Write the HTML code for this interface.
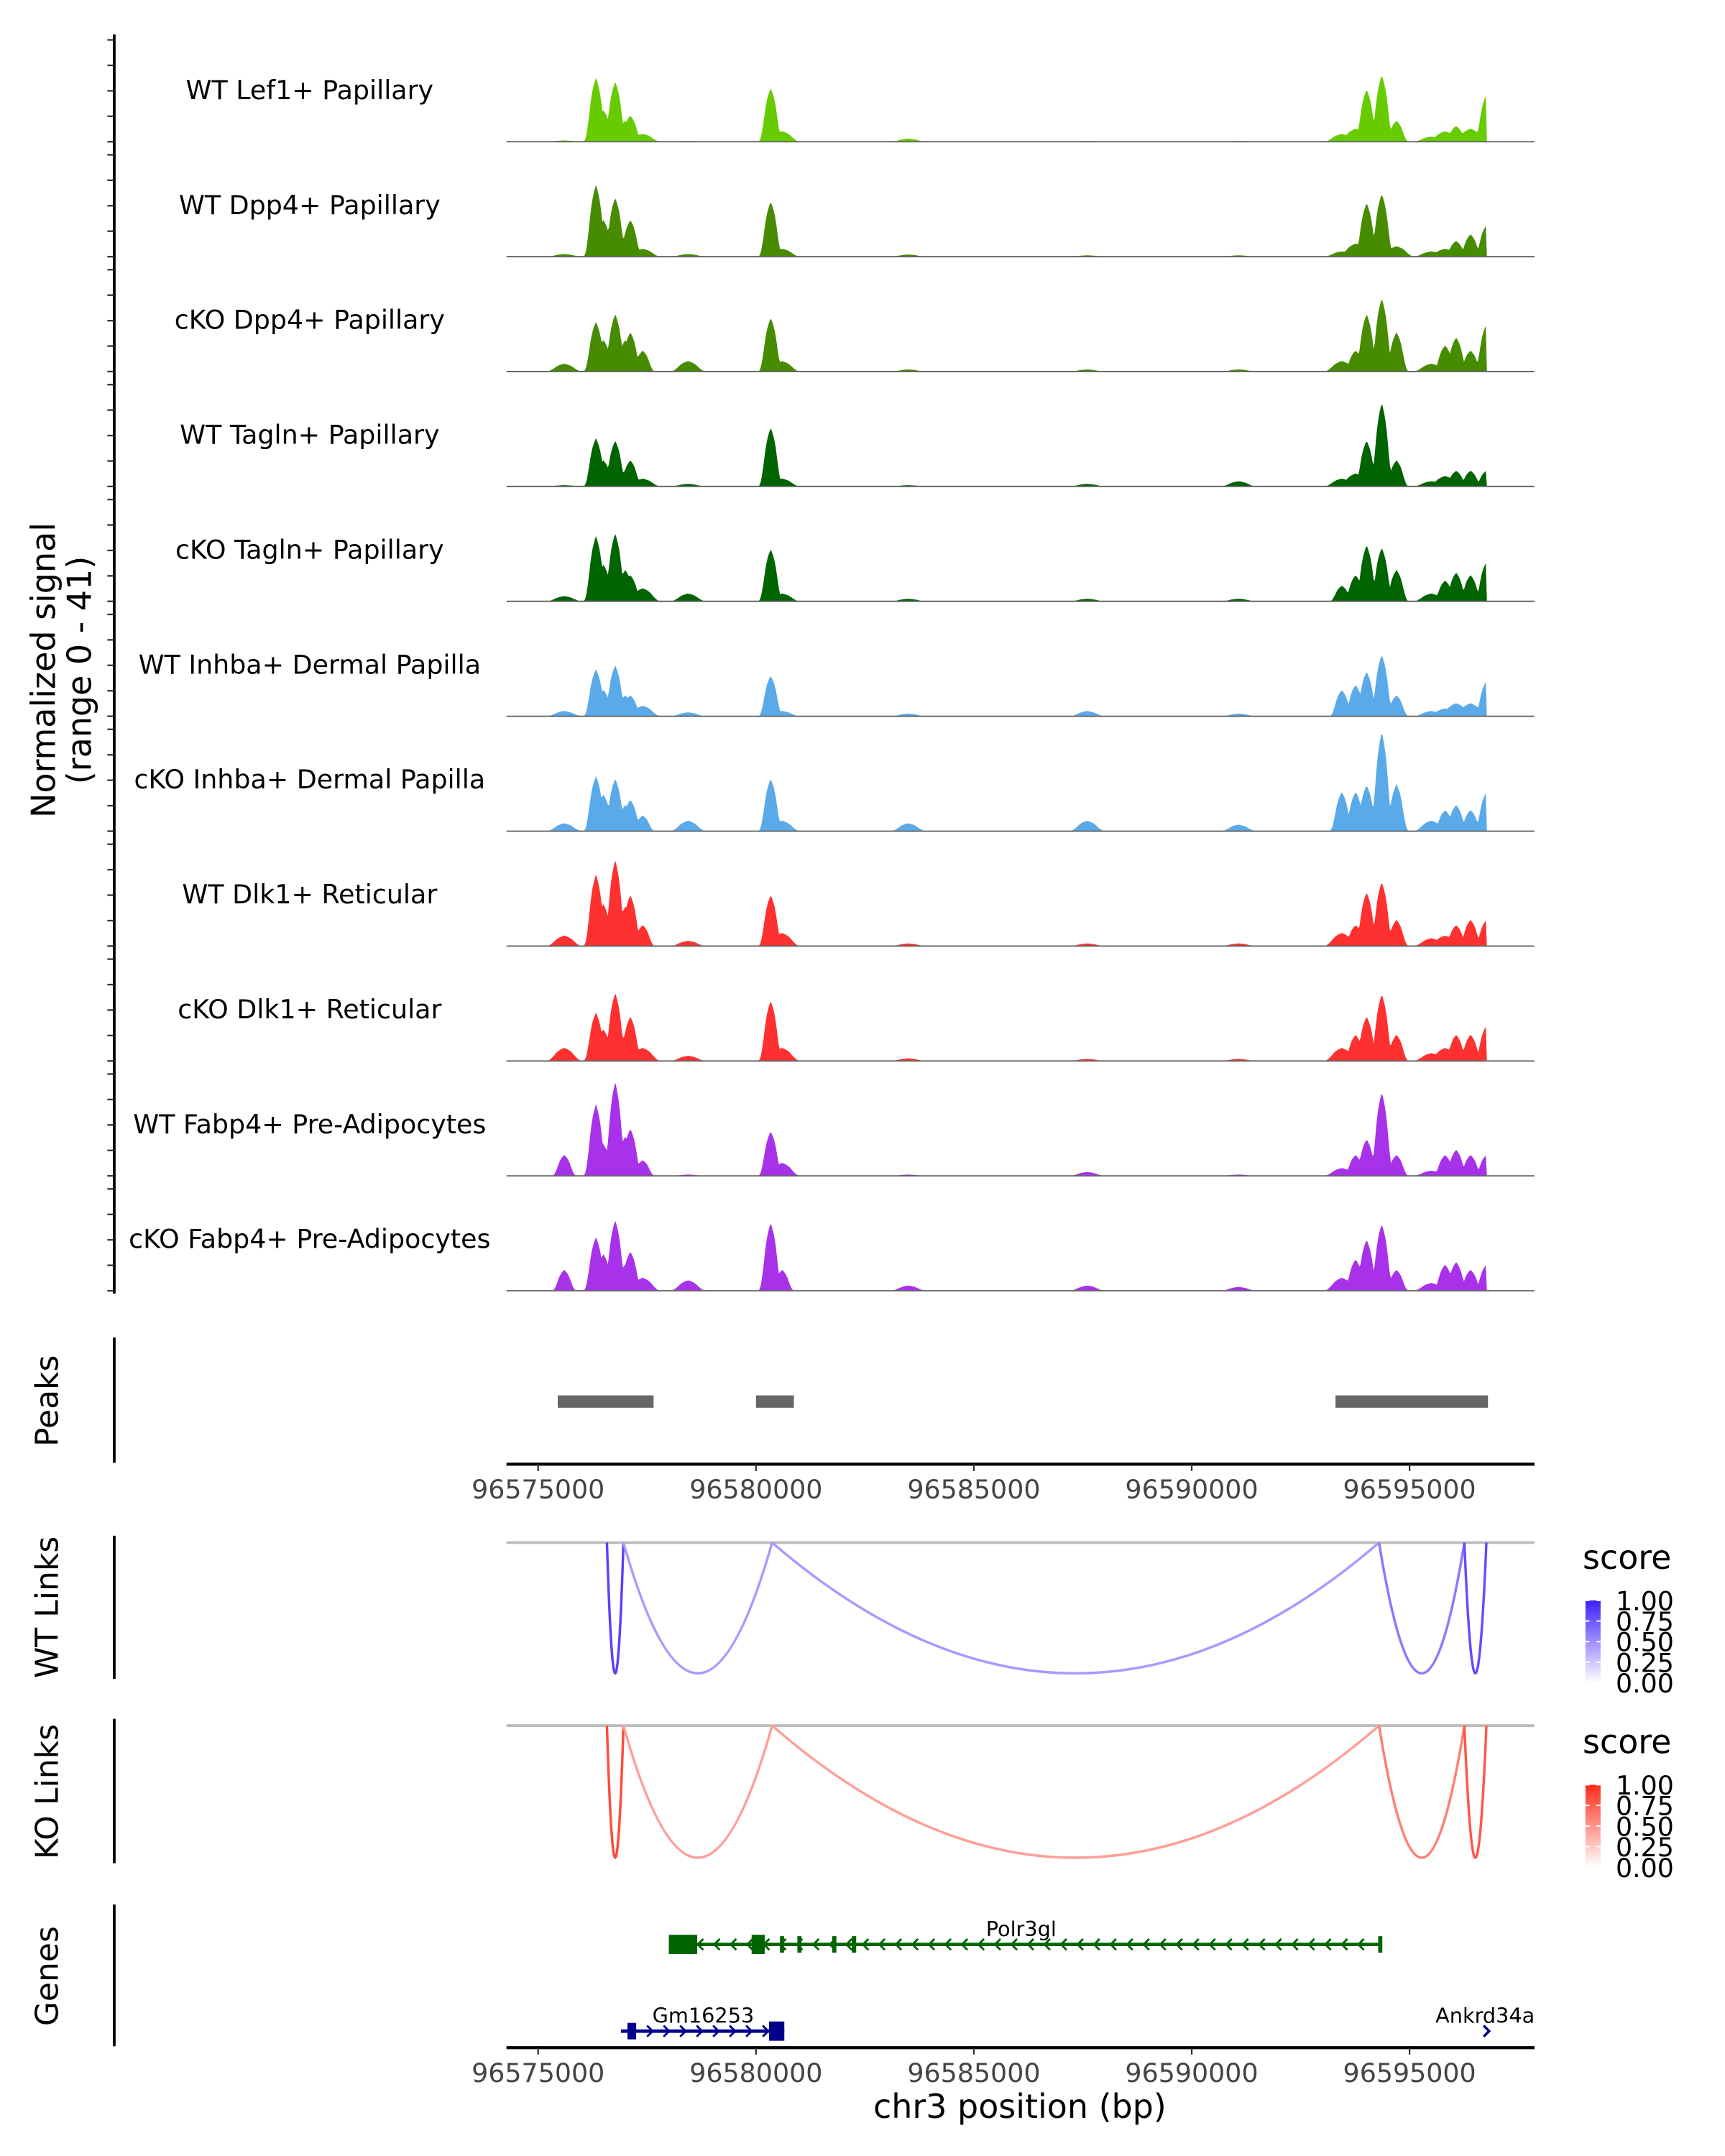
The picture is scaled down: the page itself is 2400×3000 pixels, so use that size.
<!DOCTYPE html>
<html><head><meta charset="utf-8"><style>
html,body{margin:0;padding:0;background:#fff;}
svg{display:block;font-family:"DejaVu Sans","Liberation Sans",sans-serif;}
</style></head><body>
<svg id="chart" width="2400" height="3000" viewBox="0 0 1253.4 1566.75" xmlns="http://www.w3.org/2000/svg">
<g id="tracks"></g>
<g id="peaks"></g>
<g id="links"></g>
<g id="genes"></g>
</svg>
<script>
// ---------- data ----------
const trackNames = ["WT Lef1+ Papillary","WT Dpp4+ Papillary","cKO Dpp4+ Papillary","WT Tagln+ Papillary","cKO Tagln+ Papillary","WT Inhba+ Dermal Papilla","cKO Inhba+ Dermal Papilla","WT Dlk1+ Reticular","cKO Dlk1+ Reticular","WT Fabp4+ Pre-Adipocytes","cKO Fabp4+ Pre-Adipocytes"];
const trackColors = ["#66cc00","#478b00","#478b00","#006400","#006400","#5aaaea","#5aaaea","#ff3030","#ff3030","#a832ea","#a832ea"];
const peakPos = [96575600,96576327,96576500,96576769,96577000,96577116,96577400,96578443,96580338,96580600,96583497,96587603,96591077,96593446,96593762,96594015,96594362,96594700,96595500,96595816,96596069,96596400,96596763];
const wtLef1   = [0.5,24.5,12,23,8,10,3,0.3,20.5,4,1.2,0.3,0.3,3,5,20,25.5,8,2,4,6,5,18];
const wtDpp4   = [1,27.5,14,22.5,8,14,3,1,21,3,0.8,0.5,0.5,2,5,20.5,24,4,2,3,6,8.5,12];
const koDpp4   = [3,19,12,22,12,15,8,4,20.5,4,0.8,0.8,0.8,4,8,22,28,15,3,10,13,8,18];
const wtTagln  = [0.5,18.5,10,17.5,6,10,3,1,22.5,3,0.5,1,2,3,5,17.5,32,10,2,4,6,6,6];
const koTagln  = [2,25,14,26,12,10,5,3,20,3,1,1,1,6,10,21.5,20.5,12,3,8,11,10,15];
const wtInhba  = [2,18,10,19.5,8,8,4,1.5,15.5,2,1,2,1,10,12,17,23.5,8,2,3,5,5,13.5];
const koInhba  = [3,21,14,20,10,12,6,4,20,4,3,4,2.5,15,15,17.5,38,18,4,8,10,8,15];
const wtDlk1   = [4,27.5,16,33,15,19.5,8,2,19.5,5,1,1,1,5,8,20.5,24.5,10,3,4,8,10,10];
const koDlk1   = [5,18.5,12,26,10,17,5,2,23,5,1,0.8,0.8,5,10,17,25.5,10,3,5,10,10,13.5];
const wtFabp4  = [8,27.5,12,36,15,18,6,0.5,17,5,0.5,1.5,0.5,3,8,14,32,8,2,8,10,8,8];
const koFabp4  = [8,20.5,14,27,10,15,5,4,26,8,2,2,1.5,5,12,19.5,25.5,8,3,10,11,8,10];
const trackValues = [wtLef1,wtDpp4,koDpp4,wtTagln,koTagln,wtInhba,koInhba,wtDlk1,koDlk1,wtFabp4,koFabp4];
const xTicks = [96575000,96580000,96585000,96590000,96595000];
const xTickLabels = ["96575000","96580000","96585000","96590000","96595000"];
const peakStarts = [96575450,96580000,96593300];
const peakEnds   = [96577650,96580870,96596800];
const linkStarts = [96576579,96576958,96580370,96594300,96596258];
const linkEnds   = [96576958,96580370,96594300,96596258,96596763];
const wtScores   = [0.85,0.45,0.45,0.6,0.8];
const koScores   = [0.85,0.45,0.45,0.6,0.8];
const legendTicks = [1.00,0.75,0.50,0.25,0.00];
const legendLabels = ["1.00","0.75","0.50","0.25","0.00"];
const polrExons = [[96578000,96578650],[96579900,96580200],[96580550,96580620],[96580950,96581020],[96581750,96581820],[96582200,96582300],[96594280,96594330]];
const gmExons = [[96577050,96577250],[96580300,96580650]];

// ---------- scales ----------
const NS="http://www.w3.org/2000/svg";
const X0=368, X1=1115, BP0=96574273, BP1=96597868;
function xs(bp){return X0+(bp-BP0)/(BP1-BP0)*(X1-X0);}
function el(tag,attrs,parent){const e=document.createElementNS(NS,tag);for(const k in attrs)e.setAttribute(k,attrs[k]);parent.appendChild(e);return e;}
const svg=document.getElementById('chart');
const gT=document.getElementById('tracks');
const trackBase0=103, trackStep=83.5, unitPx=1.9;
function ys(v,base){return base-v*unitPx;}

let ax=el('line',{x1:83,y1:25,x2:83,y2:940,stroke:'#000','stroke-width':2},gT);


for(let i=0;i<trackNames.length;i++){
  const base=trackBase0+i*trackStep;
  [0,10,20,30,40].forEach(v=>{
    const t=el('line',{x1:78,x2:83,y1:base-v*1.85,y2:base-v*1.85,stroke:'#333','stroke-width':1.2},gT);
    
    
  });
}
const yt=el('text',{x:0,y:0,transform:'translate(42,487) rotate(-90)','text-anchor':'middle','font-size':24},svg);


const ts1=el('tspan',{x:0,dy:-2},yt);ts1.textContent='Normalized signal';
const ts2=el('tspan',{x:0,dy:26},yt);ts2.textContent='(range 0 - 41)';

const W=160;
for(let i=0;i<trackNames.length;i++){
  const base=trackBase0+i*trackStep;
  const vals=trackValues[i];
  let d='M'+xs(96575200).toFixed(2)+','+base;
  for(let bp=96575200;bp<=96596790;bp+=25){
    let v=0;
    for(let k=0;k<peakPos.length;k++){
      const w=vals[k]<6?W*1.5:W;
      const dd=(bp-peakPos[k])/w;
      v=Math.max(v,vals[k]*Math.exp(-dd*dd*dd*dd/2)*(1-0.35*Math.min(1,Math.abs(dd))));
    }
    if(bp>96596763)v=0;
    d+=' L'+xs(bp).toFixed(2)+','+ys(v,base).toFixed(2);
  }
  d+=' L'+xs(96596790).toFixed(2)+','+base+' Z';
  const p=el('path',{d:d,fill:trackColors[i]},gT);
  
  
  const bl=el('line',{x1:X0,x2:X1,y1:base,y2:base,stroke:'#666','stroke-width':1},gT);
  
  
  const lb=el('text',{x:225,y:base-31,'text-anchor':'middle','font-size':19},gT);
  
  
  lb.textContent=trackNames[i];
}

function xAxis(y,parent,name){
  const g=el('g',{},parent);
  
  
  el('line',{x1:X0,x2:X1,y1:y,y2:y,stroke:'#000','stroke-width':2.2},g);
  xTicks.forEach((t,i)=>{
    el('line',{x1:xs(t),x2:xs(t),y1:y,y2:y+5,stroke:'#333','stroke-width':1.2},g);
    const tx=el('text',{x:xs(t),y:y+25,'text-anchor':'middle','font-size':19,fill:'#444'},g);
    
    
    tx.textContent=xTickLabels[i];
  });
}
function sideLabel(text,y,y1,y2,parent,name){
  const l=el('line',{x1:83,x2:83,y1:y1,y2:y2,stroke:'#000','stroke-width':2},parent);
  
  
  const t=el('text',{x:0,y:0,transform:'translate(42,'+y+') rotate(-90)','text-anchor':'middle','font-size':23},parent);
  
  
  t.textContent=text;
}

const gP=document.getElementById('peaks');
sideLabel('Peaks',1018,972,1063,gP,'peaks');
for(let i=0;i<peakStarts.length;i++){
  const r=el('rect',{x:xs(peakStarts[i]),y:1014,width:xs(peakEnds[i])-xs(peakStarts[i]),height:9,fill:'#666'},gP);
  
  
}
xAxis(1064,gP,'peaks-x-axis');

const gL=document.getElementById('links');
function mix(c,s){return 'rgb('+c.map(v=>Math.round(255+(v-255)*s)).join(',')+')';}
function linkPanel(top,bottom,scores,col,name,label,labY,legY){
  sideLabel(label,labY,top-5,bottom+4,gL,name);
  const bl=el('line',{x1:X0,x2:X1,y1:top,y2:top,stroke:'#bbb','stroke-width':2},gL);
  
  
  for(let i=0;i<linkStarts.length;i++){
    const a=xs(linkStarts[i]),b=xs(linkEnds[i]),m=(a+b)/2;
    const p=el('path',{d:`M${a},${top} Q${m},${top+2*(bottom-top)} ${b},${top}`,fill:'none',stroke:mix(col,scores[i]),'stroke-width':1.8},gL);
    
    
  }
  const lg=el('g',{},gL);
  
  
  const st=el('text',{x:1150,y:legY,'font-size':24},lg);st.textContent='score';
  const gid=name+'-grad';
  const defs=el('defs',{},lg);
  const gr=el('linearGradient',{id:gid,x1:0,y1:1,x2:0,y2:0},defs);
  el('stop',{offset:0,'stop-color':mix(col,0)},gr);
  el('stop',{offset:1,'stop-color':mix(col,1)},gr);
  const by0=legY+23,bh=60;
  el('rect',{x:1152,y:by0,width:11,height:bh,fill:`url(#${gid})`},lg);
  legendTicks.forEach((v,i)=>{
    const yy=by0+(1-v)*bh;
    el('line',{x1:1152,x2:1155,y1:yy,y2:yy,stroke:'#fff','stroke-width':1},lg);
    el('line',{x1:1160,x2:1163,y1:yy,y2:yy,stroke:'#fff','stroke-width':1},lg);
    const t=el('text',{x:1174,y:yy+7,'font-size':19},lg);t.textContent=legendLabels[i];
  });
}
linkPanel(1121,1216,wtScores,[61,31,255],'wt-links','WT Links',1168,1140);
linkPanel(1254,1350,koScores,[255,42,26],'ko-links','KO Links',1302,1274);

const gG=document.getElementById('genes');
sideLabel('Genes',1436,1384,1487,gG,'genes');
function gene(name,start,end,exons,y,col,dir,lx,ly,anchor){
  const g=el('g',{},gG);
  
  
  el('line',{x1:xs(start),x2:xs(end),y1:y,y2:y,stroke:col,'stroke-width':2.5},g);
  for(let x=xs(start)+10;x<xs(end)-3;x+=12){
    const d=dir<0?`M${x+3},${y-4} L${x-1},${y} L${x+3},${y+4}`:`M${x-3},${y-4} L${x+1},${y} L${x-3},${y+4}`;
    el('path',{d:d,fill:'none',stroke:col,'stroke-width':1.5},g);
  }
  exons.forEach(e=>{
    const w=xs(e[1])-xs(e[0]);const big=w>8;
    el('rect',{x:xs(e[0]),y:y-(big?7:6),width:Math.max(w,3),height:big?14:12,fill:col},g);
  });
  const t=el('text',{x:lx,y:ly,'text-anchor':anchor,'font-size':15},g);t.textContent=name;
}
gene('Polr3gl',96578000,96594330,polrExons,1413,'#006400',-1,742,1407,'middle');
gene('Gm16253',96576900,96580650,gmExons,1476,'#00008b',1,511,1470,'middle');
const ak=el('g',{},gG);


el('path',{d:`M${xs(96596700)},1472 L${xs(96596700)+4},1476 L${xs(96596700)},1480`,fill:'none',stroke:'#00008b','stroke-width':1.8},ak);
const akt=el('text',{x:1043,y:1470,'font-size':15},ak);akt.textContent='Ankrd34a';
const clip=el('rect',{x:1116,y:1450,width:40,height:25,fill:'#fff'},gG);


xAxis(1488,gG,'genes-x-axis');
const xt=el('text',{x:741,y:1539,'text-anchor':'middle','font-size':24},svg);


xt.textContent='chr3 position (bp)';
</script>
</body></html>
